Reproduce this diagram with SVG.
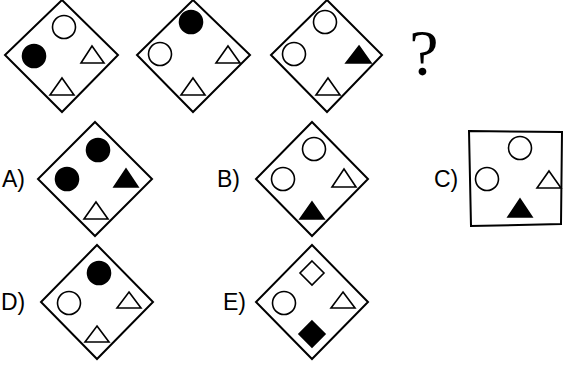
<svg xmlns="http://www.w3.org/2000/svg" width="564" height="368" viewBox="0 0 564 368">
<style>
.frame{fill:none;stroke:#000;stroke-width:2}
.o{fill:#fff;stroke:#000;stroke-width:1.6}
.f{fill:#000;stroke:#000;stroke-width:1.6}
.lbl{font-family:"Liberation Sans",Arial,sans-serif;font-size:23px;fill:#000}
.q{font-family:"Liberation Serif","Times New Roman",serif;font-size:66px;fill:#000}
</style>
<rect width="564" height="368" fill="#fff"/>
<g id="fig1">
<polygon class="frame" points="62,0 118,55 62,112 5,55"/>
<circle class="o" cx="64" cy="27" r="11.5"/>
<circle class="f" cx="34" cy="56" r="11.5"/>
<polygon class="o" points="92,46 104,63 81,63"/>
<polygon class="o" points="62,78 74,95 50,95"/>
</g>
<g id="fig2">
<polygon class="frame" points="193,0 250,55 193,112 137,55"/>
<circle class="f" cx="191" cy="22" r="11.5"/>
<circle class="o" cx="160" cy="54" r="11.5"/>
<polygon class="o" points="228,46 240,63 216,63"/>
<polygon class="o" points="193,78 205,95 181,95"/>
</g>
<g id="fig3">
<polygon class="frame" points="327,0 382,55 327,112 271,55"/>
<circle class="o" cx="325" cy="22" r="11.5"/>
<circle class="o" cx="294" cy="54" r="11.5"/>
<polygon class="f" points="359,46 371,63 346,63"/>
<polygon class="o" points="328,78 340,95 316,95"/>
</g>
<g id="question">
<text class="q" x="424" y="75" text-anchor="middle">?</text>
</g>
<g id="optA">
<text class="lbl" x="2" y="187">A)</text>
<polygon class="frame" points="95,122 152,179 95,236 38,179"/>
<circle class="f" cx="98" cy="150" r="11.5"/>
<circle class="f" cx="67" cy="179" r="11.5"/>
<polygon class="f" points="126,169 138,187 114,187"/>
<polygon class="o" points="96,202 108,219 84,219"/>
</g>
<g id="optB">
<text class="lbl" x="217" y="187">B)</text>
<polygon class="frame" points="312,122 368,179 312,236 256,179"/>
<circle class="o" cx="314" cy="149" r="11.5"/>
<circle class="o" cx="283" cy="179" r="11.5"/>
<polygon class="o" points="344,169 356,187 332,187"/>
<polygon class="f" points="312,202 324,219 300,219"/>
</g>
<g id="optC">
<text class="lbl" x="434" y="187">C)</text>
<polygon class="frame" points="469,131 562,132 561,224 471,226" stroke-width="1.6"/>
<circle class="o" cx="520" cy="148" r="11.5"/>
<circle class="o" cx="487" cy="179" r="11.5"/>
<polygon class="o" points="549,171 561,188 537,188"/>
<polygon class="f" points="520,199 532,217 508,217"/>
</g>
<g id="optD">
<text class="lbl" x="1" y="310">D)</text>
<polygon class="frame" points="97,245 153,302 97,359 41,302"/>
<circle class="f" cx="99" cy="273" r="11.5"/>
<circle class="o" cx="69" cy="303" r="11.5"/>
<polygon class="o" points="129,292 141,308 117,308"/>
<polygon class="o" points="97,326 109,342 85,342"/>
</g>
<g id="optE">
<text class="lbl" x="223" y="310">E)</text>
<polygon class="frame" points="312,245 368,302 312,359 256,302"/>
<polygon class="o" points="312,261 324,273 312,285 300,273"/>
<circle class="o" cx="284" cy="303" r="11.5"/>
<polygon class="o" points="343,292 355,308 331,308"/>
<polygon class="f" points="312,321 325,334 312,347 299,334"/>
</g>
</svg>
